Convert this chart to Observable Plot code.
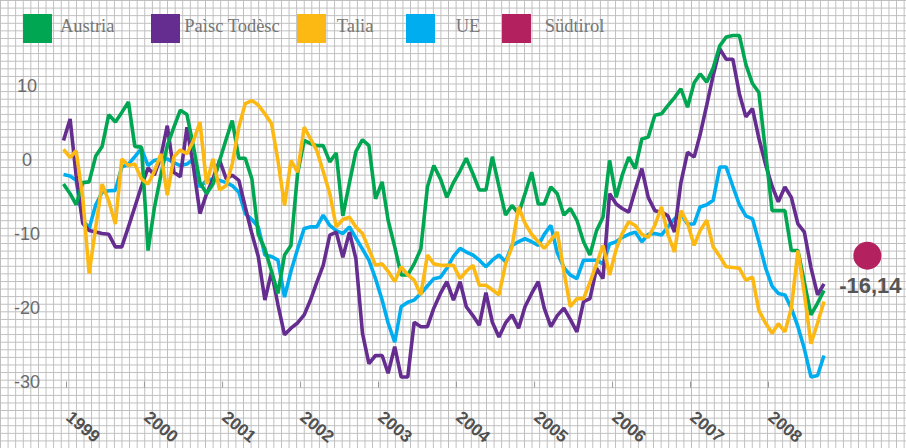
<!DOCTYPE html>
<html><head><meta charset="utf-8">
<script src="https://cdn.jsdelivr.net/npm/d3@7"></script>
<script src="https://cdn.jsdelivr.net/npm/@observablehq/plot@0.6"></script>
<style>
html,body{margin:0;padding:0;}
body{width:906px;height:448px;overflow:hidden;background-color:#fff;
background-image:linear-gradient(to right,#bdbdbd 1px,transparent 1px),linear-gradient(to bottom,#bdbdbd 1px,transparent 1px);
background-size:7.6px 7.6px;}
#wrap{position:relative;width:906px;height:448px;}
#chart{position:absolute;left:0;top:0;}
#legend{position:absolute;left:0;top:0;width:906px;height:50px;font-family:"Liberation Serif","Times New Roman",serif;font-size:18.5px;color:#777;line-height:20px;}
.sw{position:absolute;top:14px;width:29px;height:29px;}
.lb{position:absolute;top:16px;white-space:nowrap;}
</style>
</head><body>
<div id="wrap"><div id="chart"></div><div id="legend"></div></div>
<script>
// Series names and colours
const seriesNames = ["Austria", "Paìsc Todèsc", "Talia", "UE", "Südtirol"];
const seriesColors = ["#00a651", "#662d91", "#fdb913", "#00aeef", "#b3215f"];

// Monthly values, Jan 1999 – Oct 2008
const austria = [-3.2,-4.5,-6.0,-3.0,-2.9,0.6,1.9,6.2,5.2,6.5,7.9,1.9,1.8,-12.2,-6.5,-2.0,2.0,4.5,6.8,6.2,1.8,-3.0,-4.5,-3.2,0.0,2.9,5.4,0.3,0.3,-2.5,-10.0,-12.0,-15.0,-18.0,-12.8,-11.5,-1.8,2.7,2.3,2.0,2.0,-0.2,1.0,-7.5,-3.0,1.2,2.8,2.0,-5.2,-2.9,-8.1,-11.7,-15.5,-15.5,-14.0,-12.0,-3.6,-0.7,-2.5,-5.0,-3.0,-1.4,0.3,-1.8,-4.0,-4.0,0.5,-3.5,-7.4,-6.1,-7.2,-4.5,-1.6,-5.9,-5.9,-3.6,-4.5,-7.4,-6.5,-8.1,-11.0,-12.8,-9.5,-7.7,0.0,-5.0,-2.0,0.45,-1.1,2.9,3.15,6.1,6.3,7.4,8.5,9.7,7.2,10.5,11.7,10.6,12.5,15.5,16.7,16.9,16.9,13.0,10.4,9.2,1.2,-6.8,-6.8,-6.8,-12.2,-12.2,-16.5,-20.9,-19.3,-17.6];
const germania = [2.7,5.6,-2.0,-8.5,-9.5,-9.7,-9.9,-10.0,-11.7,-11.7,-9.0,-6.3,-3.5,-1.0,-2.0,0.5,4.7,-1.6,-2.2,4.5,-1.0,-7.2,-4.5,-2.5,0.0,-2.5,-2.0,-2.7,-6.3,-9.9,-13.0,-18.9,-15.1,-19.5,-23.6,-22.7,-22.0,-20.9,-19.0,-16.5,-14.2,-10.1,-9.7,-13.1,-9.7,-13.3,-23.4,-27.5,-26.4,-26.4,-28.8,-25.2,-29.3,-29.3,-21.9,-22.5,-22.5,-20.0,-18.0,-16.4,-18.9,-16.4,-19.8,-21.0,-22.3,-17.9,-21.9,-23.9,-22.0,-20.9,-22.7,-19.8,-18.0,-16.4,-20.0,-22.5,-21.0,-20.0,-21.5,-23.2,-19.1,-18.7,-14.6,-16.0,-4.5,-5.9,-6.5,-7.0,-4.0,-1.1,-5.0,-6.8,-7.0,-7.5,-9.7,-3.0,1.1,0.45,3.5,7.5,11.5,15.1,13.7,13.7,9.0,5.9,7.0,3.0,-0.5,-3.5,-5.6,-3.6,-5.0,-8.6,-9.7,-14.5,-18.2,-16.7];
const talia = [1.5,0.4,1.3,-5.0,-15.3,-9.0,-3.2,-5.5,-8.6,0.2,-0.7,-0.5,-2.5,-3.2,-1.5,0.9,-4.7,0.5,1.4,0.9,2.7,5.2,-3.2,0.2,-4.0,-3.4,-0.5,4.5,7.7,8.1,7.5,6.3,5.0,0.0,-6.1,0.0,-1.6,4.5,3.0,1.35,-1.5,-4.5,-9.0,-8.0,-7.7,-9.0,-9.9,-12.0,-14.2,-14.0,-15.0,-16.4,-14.4,-15.5,-16.2,-18.2,-12.8,-14.0,-14.2,-14.2,-14.2,-16.0,-15.0,-14.2,-16.9,-16.9,-17.5,-18.2,-14.0,-11.7,-6.3,-8.5,-10.0,-11.0,-11.9,-10.8,-9.7,-15.0,-19.8,-18.7,-18.7,-16.5,-14.0,-11.5,-15.5,-12.0,-9.9,-8.3,-8.8,-10.0,-10.4,-8.8,-6.3,-10.0,-12.4,-6.8,-8.5,-11.5,-9.5,-8.1,-11.7,-13.0,-14.4,-14.5,-14.6,-16.2,-15.8,-20.3,-22.0,-23.4,-22.1,-23.2,-20.0,-12.2,-18.0,-24.8,-22.0,-19.1];
const ue = [-1.9,-2.1,-2.7,-8.0,-9.2,-6.0,-4.3,-4.1,-4.05,-0.9,-0.5,0.5,1.6,-0.7,0.0,0.2,0.2,-0.3,-0.7,-0.5,0.2,-3.6,-2.7,-2.5,-2.7,-3.0,-3.4,-4.3,-7.2,-8.0,-9.0,-12.8,-13.0,-13.5,-18.5,-15.0,-12.0,-9.2,-9.0,-9.0,-7.4,-8.8,-9.5,-9.9,-9.0,-10.5,-12.0,-13.5,-16.0,-18.9,-22.0,-24.6,-19.8,-19.2,-18.9,-18.0,-17.0,-16.0,-15.8,-14.6,-13.0,-11.9,-12.4,-12.8,-13.5,-14.4,-13.5,-12.8,-13.7,-11.5,-11.0,-10.6,-11.0,-11.5,-10.0,-8.8,-12.5,-14.5,-15.5,-16.0,-13.5,-13.5,-13.5,-14.0,-11.3,-11.0,-10.4,-10.0,-9.7,-11.0,-10.0,-9.9,-10.1,-9.0,-7.9,-7.2,-8.6,-8.6,-6.3,-6.0,-5.4,-0.9,-0.9,-3.5,-6.0,-7.5,-7.9,-11.0,-14.5,-17.0,-18.0,-18.2,-20.0,-22.5,-25.5,-29.3,-29.1,-26.4];

// Südtirol single value
const sudtirolValue = -16.14;
const sudtirolLabel = "-16,14";
const sudtirolDate = new Date(Date.UTC(2009, 3, 22));

// Axis labels
const years = [1999, 2000, 2001, 2002, 2003, 2004, 2005, 2006, 2007, 2008];
const yTicks = [10, 0, -10, -20, -30];

const months = austria.map((_, i) => new Date(Date.UTC(1999, i, 1)));
const tickDate = y => new Date(Date.UTC(y, 0, 15));

const drawOrder = [[3, ue], [1, germania], [0, austria], [2, talia]];
const rows = [];
for (const [k, vals] of drawOrder) vals.forEach((v, i) => rows.push({series: seriesNames[k], date: months[i], value: v, k}));

const lineMarks = drawOrder.map(([k]) => Plot.line(rows.filter(r => r.k === k), {
  x: "date", y: "value", stroke: seriesColors[k], strokeWidth: 3.6,
  strokeLinejoin: "miter", strokeLinecap: "butt"
}));

const chart = Plot.plot({
  width: 906, height: 448,
  marginLeft: 63, marginRight: 82.5, marginTop: 34.3, marginBottom: 66.4,
  style: {background: "transparent", overflow: "visible", fontFamily: "Liberation Sans, Arial, sans-serif"},
  x: {type: "utc", domain: [months[0], months[months.length - 1]]},
  y: {domain: [-30, 17], axis: null},
  marks: [
    Plot.axisX({ticks: years.map(tickDate), tickSize: 6, tickFormat: () => "", stroke: "#999", label: null}),
    Plot.text(years, {x: tickDate, text: d => String(d), frameAnchor: "bottom", dy: 37, dx: -1.5, rotate: 40, textAnchor: "start", fontSize: 17, fontWeight: "bold", fill: "#505050"}),
    Plot.text(yTicks, {y: d => d, text: d => String(d), frameAnchor: "left", dx: -36.5, textAnchor: "middle", fontSize: 18, fill: "#6a6a6a"}),
    ...lineMarks,
    Plot.dot([sudtirolValue], {x: () => sudtirolDate, y: d => d, r: 14, fill: seriesColors[4], stroke: "none", dy: -24}),
    Plot.text([sudtirolValue], {x: () => sudtirolDate, y: d => d, text: () => sudtirolLabel, dy: 6.3, dx: 3, fontSize: 22, fontWeight: "bold", fill: "#555"})
  ]
});
document.getElementById("chart").appendChild(chart);

// Legend
const swatchX = [23.3, 150.7, 296.7, 405.7, 502.3];
const labelX = [60, 184.3, 336.7, 455.7, 544.7];
const legend = document.getElementById("legend");
seriesNames.forEach((name, i) => {
  const s = document.createElement("div");
  s.className = "sw"; s.style.left = swatchX[i] + "px"; s.style.background = seriesColors[i];
  legend.appendChild(s);
  const t = document.createElement("div");
  t.className = "lb"; t.style.left = labelX[i] + "px"; t.textContent = name;
  legend.appendChild(t);
});
</script>
</body></html>
